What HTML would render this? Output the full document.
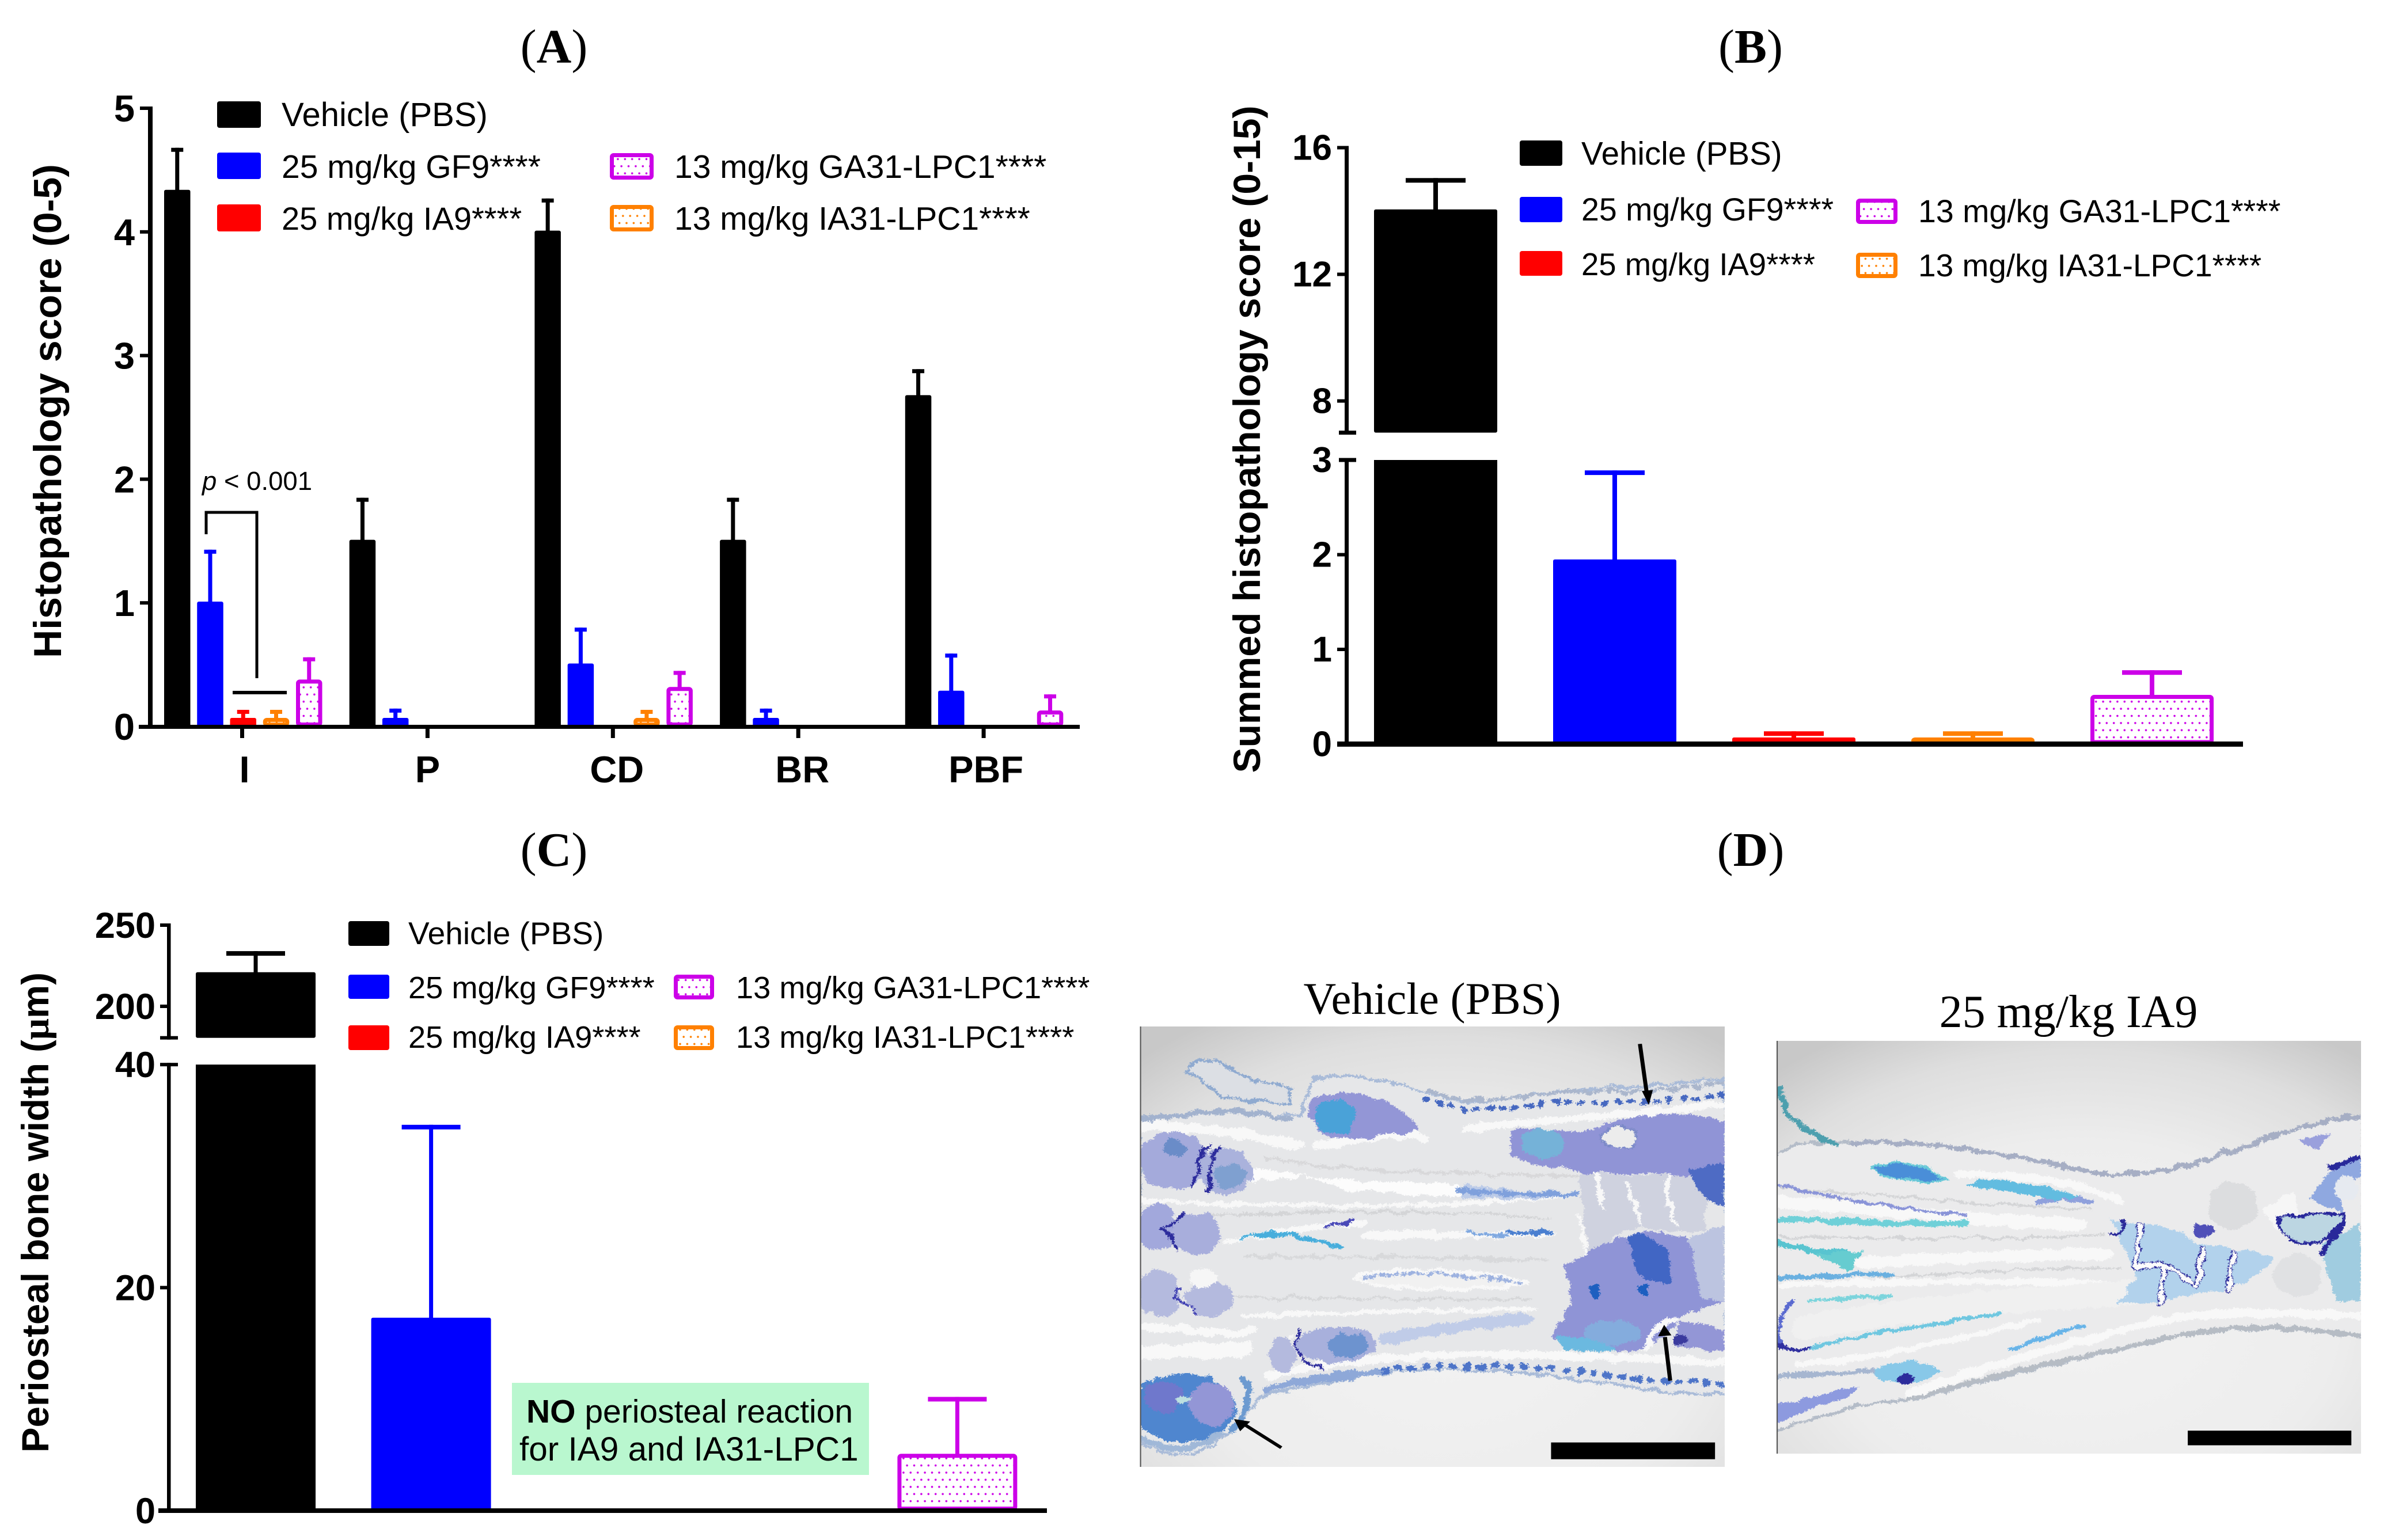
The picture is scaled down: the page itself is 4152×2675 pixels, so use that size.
<!DOCTYPE html>
<html lang="en">
<head>
<meta charset="utf-8">
<title>Histopathology figure</title>
<style>
html,body{margin:0;padding:0;background:#fff;}
svg{display:block;}
text{font-family:"Liberation Sans",Arial,sans-serif;fill:#000;}
.serif{font-family:"Liberation Serif","Times New Roman",serif;}
.ptitle{font-family:"Liberation Serif","Times New Roman",serif;font-size:84px;}
.ytitle{font-weight:bold;text-anchor:middle;}
.lgA{font-size:57px;}
.lgB{font-size:55.5px;}
.lgC{font-size:54.2px;}
.soft{stroke-linecap:round;stroke-linejoin:round;fill:none;}
</style>
</head>
<body>
<svg id="fig" xmlns="http://www.w3.org/2000/svg" width="4152" height="2675" viewBox="0 0 4152 2675">
<defs>
  <pattern id="dots-magenta" patternUnits="userSpaceOnUse" width="12.4" height="24.8" patternTransform="translate(3.5 0.5)">
    <circle cx="3" cy="3" r="1.8" fill="#cc00e8"/><circle cx="9.2" cy="15.4" r="1.8" fill="#cc00e8"/>
  </pattern>
  <pattern id="dots-orange" patternUnits="userSpaceOnUse" width="12.4" height="24.8">
    <circle cx="3" cy="3" r="1.8" fill="#ff8000"/><circle cx="9.2" cy="15.4" r="1.8" fill="#ff8000"/>
  </pattern>
  <radialGradient id="histBg" cx="52%" cy="68%" r="80%">
    <stop offset="0%" stop-color="#f2f2f2"/><stop offset="55%" stop-color="#ededed"/><stop offset="82%" stop-color="#dedede"/><stop offset="100%" stop-color="#c8c8c8"/>
  </radialGradient>
  <filter id="organic1" filterUnits="userSpaceOnUse" x="42" y="170" width="1448" height="1262" color-interpolation-filters="sRGB">
    <feTurbulence type="fractalNoise" baseFrequency="0.03" numOctaves="3" seed="4" result="n1"/>
    <feDisplacementMap in="SourceGraphic" in2="n1" scale="26" xChannelSelector="R" yChannelSelector="G" result="d1"/>
    <feTurbulence type="fractalNoise" baseFrequency="0.22" numOctaves="2" seed="9" result="n2"/>
    <feDisplacementMap in="d1" in2="n2" scale="14" xChannelSelector="G" yChannelSelector="R"/>
  </filter>
  <filter id="organic2" filterUnits="userSpaceOnUse" x="50" y="178" width="1447" height="1184" color-interpolation-filters="sRGB">
    <feTurbulence type="fractalNoise" baseFrequency="0.03" numOctaves="3" seed="11" result="n1"/>
    <feDisplacementMap in="SourceGraphic" in2="n1" scale="22" xChannelSelector="R" yChannelSelector="G" result="d1"/>
    <feTurbulence type="fractalNoise" baseFrequency="0.22" numOctaves="2" seed="3" result="n2"/>
    <feDisplacementMap in="d1" in2="n2" scale="12" xChannelSelector="G" yChannelSelector="R"/>
  </filter>
</defs>

<rect width="4152" height="2675" fill="#fff"/>

<!-- panel titles -->
<text class="ptitle" x="962" y="109" text-anchor="middle">(<tspan font-weight="bold">A</tspan>)</text>
<text class="ptitle" x="3040" y="109" text-anchor="middle">(<tspan font-weight="bold">B</tspan>)</text>
<text class="ptitle" x="962" y="1504" text-anchor="middle">(<tspan font-weight="bold">C</tspan>)</text>
<text class="ptitle" x="3040" y="1504" text-anchor="middle">(<tspan font-weight="bold">D</tspan>)</text>

<!-- y axis titles -->
<text class="ytitle" font-size="68" transform="translate(106 714) rotate(-90)">Histopathology score (0-5)</text>
<text class="ytitle" font-size="66" transform="translate(2188 763) rotate(-90)">Summed histopathology score (0-15)</text>
<text class="ytitle" font-size="65.5" transform="translate(84 2106) rotate(-90)">Periosteal bone width (<tspan class="serif">μ</tspan>m)</text>

<!-- chart layers filled by script -->
<g id="chartA"></g>
<g id="chartB"></g>
<g id="chartC"></g>

<!-- significance annotation A -->
<g>
  <path d="M358 928 V890 H446 V1178" fill="none" stroke="#000" stroke-width="5"/>
  <rect x="404" y="1200" width="94" height="6" fill="#000"/>
  <text x="351" y="851" font-size="45.5"><tspan font-style="italic">p</tspan> &lt; 0.001</text>
</g>

<!-- legend A -->
<g>
  <rect x="377" y="176" width="76" height="46" rx="4" fill="#000"/>
  <text class="lgA" x="489" y="219" style="font-size:58px">Vehicle (PBS)</text>
  <rect x="377" y="265" width="76" height="46" rx="4" fill="#0000ff"/>
  <text class="lgA" x="489" y="309">25 mg/kg GF9****</text>
  <rect x="377" y="355" width="76" height="47" rx="4" fill="#ff0000"/>
  <text class="lgA" x="489" y="399" style="font-size:56px">25 mg/kg IA9****</text>
  <rect x="1062.5" y="269.5" width="69" height="39" rx="3" fill="url(#dots-magenta)" stroke="#cc00e8" stroke-width="7"/>
  <text class="lgA" x="1171" y="309">13 mg/kg GA31-LPC1****</text>
  <rect x="1062.5" y="359.5" width="69" height="39" rx="3" fill="url(#dots-orange)" stroke="#ff8000" stroke-width="7"/>
  <text class="lgA" x="1171" y="399">13 mg/kg IA31-LPC1****</text>
</g>

<!-- legend B -->
<g>
  <rect x="2639" y="244" width="74" height="44" rx="4" fill="#000"/>
  <text class="lgB" x="2746" y="286" style="font-size:56.5px">Vehicle (PBS)</text>
  <rect x="2639" y="342" width="74" height="44" rx="4" fill="#0000ff"/>
  <text class="lgB" x="2746" y="383">25 mg/kg GF9****</text>
  <rect x="2639" y="436" width="74" height="43" rx="4" fill="#ff0000"/>
  <text class="lgB" x="2746" y="478" style="font-size:54.5px">25 mg/kg IA9****</text>
  <rect x="3226.5" y="348.5" width="65" height="37" rx="3" fill="url(#dots-magenta)" stroke="#cc00e8" stroke-width="7"/>
  <text class="lgB" x="3331" y="386">13 mg/kg GA31-LPC1****</text>
  <rect x="3226.5" y="442.5" width="65" height="37" rx="3" fill="url(#dots-orange)" stroke="#ff8000" stroke-width="7"/>
  <text class="lgB" x="3331" y="480" style="font-size:55px">13 mg/kg IA31-LPC1****</text>
</g>

<!-- legend C -->
<g>
  <rect x="605" y="1600" width="71" height="43" rx="4" fill="#000"/>
  <text class="lgC" x="709" y="1640" style="font-size:55px">Vehicle (PBS)</text>
  <rect x="605" y="1693" width="71" height="42" rx="4" fill="#0000ff"/>
  <text class="lgC" x="709" y="1734">25 mg/kg GF9****</text>
  <rect x="605" y="1781" width="71" height="43" rx="4" fill="#ff0000"/>
  <text class="lgC" x="709" y="1820">25 mg/kg IA9****</text>
  <rect x="1173.5" y="1696.5" width="63" height="36" rx="3" fill="url(#dots-magenta)" stroke="#cc00e8" stroke-width="7"/>
  <text class="lgC" x="1278" y="1734">13 mg/kg GA31-LPC1****</text>
  <rect x="1173.5" y="1784.5" width="63" height="36" rx="3" fill="url(#dots-orange)" stroke="#ff8000" stroke-width="7"/>
  <text class="lgC" x="1278" y="1820">13 mg/kg IA31-LPC1****</text>
</g>

<!-- annotation C -->
<g>
  <rect x="889" y="2402" width="620" height="160" fill="#b9f7cf"/>
  <text x="914" y="2471" font-size="57"><tspan font-weight="bold">NO</tspan> periosteal reaction</text>
  <text x="902" y="2537" font-size="58.5">for IA9 and IA31-LPC1</text>
</g>

<!-- panel D image labels -->
<text class="serif" x="2487" y="1761" font-size="78.5" text-anchor="middle">Vehicle (PBS)</text>
<text class="serif" x="3592" y="1784" font-size="80" text-anchor="middle">25 mg/kg IA9</text>

<!-- Histology: vehicle -->
<svg x="1979.5" y="1783" width="1015.5" height="765" viewBox="42 170 1448 1262" preserveAspectRatio="none">
  <rect x="42" y="170" width="1448" height="1262" fill="url(#histBg)"/>
  <g filter="url(#organic1)">
  <path d="M42 440C120 415 240 400 380 425L440 420L470 320C560 300 680 330 760 360C880 420 1000 350 1120 355C1240 340 1380 335 1490 320L1500 1220C1400 1225 1300 1215 1200 1190C1000 1165 860 1140 700 1155C560 1170 440 1205 340 1230C300 1300 270 1340 200 1385C150 1405 80 1400 30 1350Z" fill="#e6e7e9" stroke="#a9bbd8" stroke-width="8"/>
  <path d="M155 300L180 270L230 265L300 320L420 345L410 390L360 385L250 375L210 340Z" fill="#dcdfe4" stroke="#8faad0" stroke-width="8"/>
  <g class="soft" stroke="#f8f8f8">
    <path d="M42 452C200 462 350 482 430 512" stroke-width="30"/>
    <path d="M480 512C600 490 700 470 750 490" stroke-width="22"/>
    <path d="M850 465C1000 440 1200 430 1490 392" stroke-width="20"/>
    <path d="M350 550C600 590 850 590 1130 600" stroke-width="8" stroke="#d8d8da"/>
    <path d="M42 668C300 685 700 700 1120 652" stroke-width="12"/>
    <path d="M250 790C420 745 520 740 600 730" stroke-width="16"/>
    <path d="M600 770C750 762 900 772 1060 762" stroke-width="20"/>
    <path d="M150 720C450 690 800 700 1060 720" stroke-width="7" stroke="#d4d5d7"/>
    <path d="M300 830C600 830 800 830 1050 840" stroke-width="8" stroke="#d8d9db"/>
    <path d="M570 890C650 860 850 860 1010 905C850 930 650 930 570 890Z" stroke-width="10" fill="#f1f1f1"/>
    <path d="M300 1000C600 985 800 985 1020 980" stroke-width="12"/>
    <path d="M260 950C500 940 800 960 1000 950" stroke-width="6" stroke="#d6d7d9"/>
    <path d="M42 1030C200 1040 300 1060 320 1040" stroke-width="22"/>
    <path d="M42 1105L300 1095" stroke-width="42"/>
    <path d="M360 1170C600 1110 900 1090 1490 1135" stroke-width="22"/>
  </g>
  <path d="M300 570L400 590L520 610L830 622L840 660L560 640L450 600L310 612Z" fill="#fcfcfc"/>
  <path d="M840 625L1120 650L1000 665L840 660Z" fill="#bccbe8"/>
  <!-- purple masses -->
  <path d="M460 400C480 350 560 350 640 380C700 410 730 450 730 470C660 480 560 500 510 490C470 460 460 430 460 400Z" fill="#9396d6"/>
  <ellipse cx="525" cy="430" rx="52" ry="52" fill="#4aa2d8"/>
  <path d="M960 470C1040 450 1100 480 1160 470C1220 430 1350 400 1490 440L1490 680L1430 620L1300 590L1150 590C1100 570 1000 580 960 540Z" fill="#9094d6"/>
  <ellipse cx="1040" cy="505" rx="55" ry="42" fill="#6cbcd8" opacity=".75"/>
  <ellipse cx="1232" cy="487" rx="42" ry="32" fill="#ececec" stroke="#7c8ac8" stroke-width="5"/>
  <path d="M1130 590L1450 600L1440 760L1250 750L1150 830Z" fill="#cfd2df"/>
  <path d="M1400 580L1490 560L1490 690L1430 660Z" fill="#4e6bc4"/>
  <path d="M1090 860C1180 800 1250 750 1340 760C1420 800 1490 780 1490 900L1490 960L1380 1000C1370 1050 1300 1080 1280 1100C1200 1100 1100 1100 1060 1060C1090 1000 1130 960 1090 860Z" fill="#8f94d6"/>
  <path d="M1250 770C1300 750 1370 800 1360 900C1300 920 1260 880 1250 770Z" fill="#4166c4"/>
  <path d="M1400 780L1490 740L1490 960L1430 950Z" fill="#bcc4e0"/>
  <path d="M1380 1010L1490 1040L1490 1100L1370 1090Z" fill="#9396d6"/>
  <ellipse cx="1380" cy="1070" rx="20" ry="14" fill="#3a3a9e"/>
  <ellipse cx="1170" cy="930" rx="14" ry="22" fill="#1d5fc0"/><ellipse cx="1288" cy="925" rx="14" ry="16" fill="#1d5fc0"/>
  <ellipse cx="1210" cy="1050" rx="70" ry="38" fill="#7fb6df" opacity=".7"/>
  <path d="M1070 1060C1130 1050 1180 1070 1220 1100L1090 1100Z" fill="#6bb9e0"/>
  <g class="soft" stroke="#f8f8f8" stroke-width="9">
    <path d="M1170 590L1190 690"/><path d="M1250 620L1280 740"/><path d="M1350 600C1340 650 1360 700 1370 740"/><path d="M1130 710L1145 820"/><path d="M1290 1100C1310 1050 1320 1025 1370 1010" stroke-width="14"/>
  </g>
  <!-- joints -->
  <ellipse cx="125" cy="555" rx="88" ry="82" fill="#a4aadb"/><ellipse cx="255" cy="585" rx="65" ry="70" fill="#aab2dc"/>
  <ellipse cx="130" cy="520" rx="30" ry="25" fill="#6a8cc8"/><ellipse cx="265" cy="600" rx="40" ry="35" fill="#7fa0d0"/>
  <ellipse cx="85" cy="745" rx="48" ry="68" fill="#a2a8dc"/><ellipse cx="180" cy="762" rx="60" ry="60" fill="#a8aedc"/>
  <ellipse cx="90" cy="935" rx="52" ry="68" fill="#b4bade"/><ellipse cx="215" cy="950" rx="60" ry="52" fill="#b4bade"/>
  <ellipse cx="200" cy="890" rx="36" ry="26" fill="#f6f6f6"/>
  <g class="soft" stroke="#2c2c9c" stroke-width="9">
    <path d="M215 510C180 540 190 590 175 625"/><path d="M240 515C205 550 215 600 210 640"/>
    <path d="M150 705C130 740 100 740 95 750C120 765 130 790 130 812" stroke-width="7"/>
    <path d="M150 920C120 935 120 950 155 965C180 980 175 990 185 1000" stroke-width="5" stroke="#3a3ab0"/>
    <path d="M440 1040C420 1080 430 1130 490 1150" stroke-width="7"/>
    <path d="M420 1050C390 1080 400 1120 420 1140" stroke-width="4" stroke="#f5f5f5"/>
  </g>
  <ellipse cx="530" cy="1082" rx="98" ry="52" fill="#a8b0dc"/><ellipse cx="560" cy="1085" rx="50" ry="34" fill="#6d93cf"/>
  <ellipse cx="395" cy="1110" rx="32" ry="50" fill="#b4bade"/>
  <path d="M650 1065C780 1035 900 1015 1000 1010" class="soft" stroke="#c0cce8" stroke-width="34"/>
  <path d="M830 640L1120 652" class="soft" stroke="#7fa0dc" stroke-width="14" stroke-dasharray="10 12"/>
  <!-- colored streaks -->
  <g class="soft">
    <path d="M290 782C350 752 420 760 540 802" stroke="#48aedc" stroke-width="11"/>
    <path d="M505 745L570 725" stroke="#4a4ab8" stroke-width="10"/>
    <path d="M960 760L1060 760" stroke="#4a7fd0" stroke-width="14"/>
    <path d="M860 760L950 770" stroke="#7fa8e0" stroke-width="10" stroke-dasharray="8 10"/>
    <path d="M600 890C700 870 850 880 990 905" stroke="#9db2e0" stroke-width="10" stroke-dasharray="10 12"/>
  </g>
  <!-- skin rows -->
  <g class="soft">
    <path d="M750 378C850 430 950 400 1100 385C1250 395 1400 375 1490 368" stroke="#4668c0" stroke-width="15" stroke-dasharray="6 26"/>
    <path d="M760 355C850 400 950 375 1100 355C1250 365 1400 345 1490 330" stroke="#aab6cc" stroke-width="12" stroke-dasharray="16 14"/>
    <path d="M640 1155C800 1135 1000 1135 1200 1170C1300 1180 1400 1195 1490 1190" stroke="#4d74c8" stroke-width="16" stroke-dasharray="7 28"/>
    <path d="M360 1210C430 1185 520 1170 640 1160" stroke="#8ea8d8" stroke-width="22" stroke-dasharray="8 14"/>
    <path d="M42 438C150 420 280 395 420 440" stroke="#a2b2ce" stroke-width="16" stroke-dasharray="14 12"/>
  </g>
  <!-- ball -->
  <ellipse cx="150" cy="1262" rx="128" ry="98" fill="#4f86cf"/>
  <ellipse cx="218" cy="1250" rx="55" ry="62" fill="#9396d6"/>
  <ellipse cx="100" cy="1230" rx="50" ry="45" fill="#6f78cc"/>
  <ellipse cx="150" cy="1240" rx="18" ry="14" fill="#bde0e0"/>
  <path d="M50 1350C100 1390 170 1390 240 1340" class="soft" stroke="#a0b8d8" stroke-width="18"/>
  <path d="M300 1180C320 1230 300 1300 270 1330" class="soft" stroke="#6c9ad0" stroke-width="16"/>
  </g>
  <rect x="42" y="170" width="3" height="1262" fill="#555"/>
  <!-- arrows -->
  <g>
    <path d="M1280 220L1298 370" stroke="#000" stroke-width="10" fill="none"/><path d="M1285 355L1312 352L1302 395Z" fill="#000"/>
    <path d="M1355 1185L1342 1060" stroke="#000" stroke-width="10" fill="none"/><path d="M1325 1058L1358 1055L1340 1025Z" fill="#000"/>
    <path d="M392 1377L300 1310" stroke="#000" stroke-width="9" fill="none"/><path d="M275 1295L315 1302L290 1330Z" fill="#000"/>
  </g>
  <rect x="1060" y="1362" width="406" height="48" fill="#000"/>
</svg>

<!-- Histology: IA9 -->
<svg x="3085" y="1808" width="1015" height="717" viewBox="50 178 1447 1184" preserveAspectRatio="none">
  <rect x="50" y="178" width="1447" height="1184" fill="url(#histBg)"/>
  <g filter="url(#organic2)">
  <path d="M40 510L100 470L240 470C400 460 600 500 800 545C900 580 1050 550 1130 510C1250 470 1380 400 1505 395L1505 1030C1300 990 1100 1000 1000 1040C800 1090 600 1140 380 1210C300 1200 200 1240 40 1300Z" fill="#ebebec" stroke="#b4bcc8" stroke-width="8"/>
  <path d="M55 310C70 400 110 430 200 480" class="soft" stroke="#4d9fae" stroke-width="13" stroke-dasharray="18 8"/>
  <path d="M240 470C400 460 600 500 800 545C900 580 1050 550 1130 510C1250 470 1380 400 1497 395" class="soft" stroke="#a6aec4" stroke-width="14" stroke-dasharray="12 14"/>
  <path d="M380 1205C600 1130 800 1085 1000 1035C1150 990 1300 990 1497 1025" class="soft" stroke="#b6bcc4" stroke-width="14" stroke-dasharray="12 12"/>
  <g class="soft" stroke="#f8f8f8">
    <path d="M60 640C300 660 600 700 800 705" stroke-width="36"/>
    <path d="M260 815C500 800 700 790 870 790" stroke-width="34"/>
    <path d="M60 880C300 870 700 860 930 880" stroke-width="18"/>
    <path d="M120 1000C300 960 600 920 930 900" stroke-width="70" stroke="#f0f0f0"/>
    <path d="M500 560C650 560 800 580 900 640" stroke-width="20"/>
    <path d="M100 1105C250 1100 420 1050 700 980" stroke-width="16"/>
    <path d="M380 1190C600 1100 800 1040 1000 980C1150 950 1300 960 1497 965" stroke-width="24"/>
    <path d="M60 740C300 740 600 750 860 735" stroke-width="6" stroke="#d4d5d7"/>
    <path d="M60 600C300 620 600 650 830 660" stroke-width="6" stroke="#d4d5d7"/>
    <path d="M300 860C500 840 700 830 900 830" stroke-width="6" stroke="#d4d5d7"/>
  </g>
  <g class="soft">
    <path d="M50 590C150 620 300 650 520 680" stroke="#8a94d8" stroke-width="9"/>
    <path d="M55 690C200 690 350 710 520 700" stroke="#6fd0d8" stroke-width="15"/>
    <path d="M55 760C120 780 200 790 250 790" stroke="#58c4d0" stroke-width="18"/>
    <path d="M55 858C150 850 250 850 340 850" stroke="#6ab0e0" stroke-width="14"/>
    <path d="M130 1058C300 1010 450 990 600 960" stroke="#6fc7e0" stroke-width="11"/>
    <path d="M130 920C200 915 260 915 330 910" stroke="#7cd4dc" stroke-width="10"/>
    <path d="M55 1040C70 1065 100 1070 125 1060" stroke="#3030a0" stroke-width="11"/>
    <path d="M58 1040C60 980 60 945 90 925" stroke="#5a6ad0" stroke-width="8"/>
    <path d="M630 1060C700 1030 760 1010 810 995" stroke="#68b4e8" stroke-width="12"/>
    <path d="M700 640C760 620 800 630 830 640" stroke="#8fa0dc" stroke-width="14"/>
  </g>
  <path d="M140 790L260 780L235 840Z" fill="#66ccd0"/>
  <path d="M280 545C330 510 420 530 470 575C400 585 320 580 280 545Z" fill="#4a8ed8" stroke="#68c8d8" stroke-width="6"/>
  <path d="M520 590C570 560 680 580 800 625L740 635C650 610 570 610 520 590Z" fill="#62bce0"/>
  <!-- joints -->
  <path d="M880 690C950 720 1000 680 1100 760C1200 780 1250 780 1280 800C1260 850 1200 890 1100 900L980 930L890 930C930 880 950 860 930 830Z" fill="#b2d2ec"/>
  <ellipse cx="1180" cy="650" rx="60" ry="70" fill="#dcdddf"/>
  <ellipse cx="1340" cy="850" rx="60" ry="60" fill="#e0e1e3"/>
  <g class="soft" fill="none">
    <path d="M950 710L940 830L1010 815L1000 930M1010 815L1090 885L1105 775M1180 780L1170 895" stroke="#2a2a9a" stroke-width="16"/>
    <path d="M950 710L940 830L1010 815L1000 930M1010 815L1090 885L1105 775M1180 780L1170 895" stroke="#fbfbfb" stroke-width="11"/>
    <path d="M875 730C900 735 915 725 905 690" stroke="#2a2a9a" stroke-width="8"/>
  </g>
  <ellipse cx="1105" cy="722" rx="25" ry="18" fill="#5050b8"/>
  <path d="M1250 660L1330 610L1350 690L1290 720Z" fill="#f6f6f6"/>
  <path d="M1400 760L1497 700L1497 930L1430 920C1420 860 1400 800 1400 760Z" fill="#a0cce0"/>
  <path d="M1293 682C1340 680 1400 675 1450 672C1450 720 1410 765 1350 760C1310 750 1295 710 1293 682Z" fill="#bcd6e2" stroke="#28289a" stroke-width="7"/>
  <path d="M1450 700C1440 730 1420 750 1400 790" class="soft" stroke="#28289a" stroke-width="14"/>
  <path d="M1370 630C1410 560 1450 510 1497 510L1497 570L1450 620L1450 670Z" fill="#8fa8e0"/>
  <path d="M1420 540L1497 515" class="soft" stroke="#28289a" stroke-width="13"/>
  <ellipse cx="1460" cy="600" rx="30" ry="35" fill="#e6eaf0"/>
  <path d="M1340 460L1420 450L1390 490Z" fill="#9aa0dc"/>
  <!-- bottom -->
  <path d="M45 1290C90 1230 200 1230 260 1170C200 1170 100 1220 45 1220Z" fill="#8d9adf"/>
  <path d="M290 1120C340 1090 430 1090 460 1130C420 1160 360 1170 300 1150Z" fill="#88c8e8"/>
  <ellipse cx="370" cy="1148" rx="19" ry="15" fill="#2c2c9c"/>
  <path d="M50 1140C120 1130 200 1140 290 1120" class="soft" stroke="#a6b6d0" stroke-width="14" stroke-dasharray="10 10"/>
  </g>
  <rect x="50" y="178" width="3" height="1184" fill="#555"/>
  <rect x="1068" y="1296" width="405" height="42" fill="#000"/>
</svg>

<script>
// ---------- Panel A data ----------
const aCategories = ['I', 'P', 'CD', 'BR', 'PBF'];
const aTickLabels = [0, 1, 2, 3, 4, 5];
const aVehicle = [4.34, 1.51, 4.01, 1.51, 2.68];
const aVehicleUpper = [4.68, 1.85, 4.27, 1.85, 2.89];
const aGF9 = [1.01, 0.07, 0.51, 0.07, 0.29];
const aGF9Upper = [1.43, 0.145, 0.8, 0.145, 0.59];
const aIA9 = [0.07, 0, 0, 0, 0];
const aIA9Upper = [0.135, 0, 0, 0, 0];
const aIA31 = [0.07, 0, 0.07, 0, 0];
const aIA31Upper = [0.135, 0, 0.135, 0, 0];
const aGA31 = [0.38, 0, 0.32, 0, 0.13];
const aGA31Upper = [0.56, 0, 0.45, 0, 0.26];

// ---------- Panel B data ----------
const bGroups = ['Vehicle', 'GF9', 'IA9', 'IA31-LPC1', 'GA31-LPC1'];
const bValues = [14.05, 1.95, 0.07, 0.07, 0.52];
const bUpper = [15.04, 2.89, 0.135, 0.135, 0.78];
const bLowerTicks = [0, 1, 2, 3];
const bUpperTicks = [8, 12, 16];

// ---------- Panel C data ----------
const cGroups = ['Vehicle', 'GF9', 'IA9', 'IA31-LPC1', 'GA31-LPC1'];
const cValues = [221, 17.3, 0, 0, 5.1];
const cUpper = [234, 34.6, 0, 0, 10.2];
const cLowerTicks = [0, 20, 40];
const cUpperTicks = [200, 250];

const SVGNS = 'http://www.w3.org/2000/svg';
const STYLE = {
  black: {color: '#000000', hollow: false},
  blue: {color: '#0000ff', hollow: false},
  red: {color: '#ff0000', hollow: false},
  orange: {color: '#ff8000', hollow: true, pat: 'dots-orange'},
  magenta: {color: '#cc00e8', hollow: true, pat: 'dots-magenta'}
};
const SERIES_ORDER = ['black', 'blue', 'red', 'orange', 'magenta'];

function aY(v) { return 1262 - v * 214.8; }
function aXLeft(g, s) { return 285 + 321.7 * g + 57.25 * s; }
function aXTick(g) { return 420.5 + 321.9 * g; }

function bY(v) { return v <= 3 ? 1292.5 - v * 164.5 : 696.5 - (v - 8) * 55; }
function bXLeft(i) { return 2386 + 311 * i; }

function cY(v) { return v <= 40 ? 2624 - v * 19.37 : 1748 - (v - 200) * 2.82; }
function cXLeft(i) { return 340 + 304.6 * i; }

function rect(parent, x, y, w, h, fill) {
  const el = document.createElementNS(SVGNS, 'rect');
  el.setAttribute('x', x);
  el.setAttribute('y', y);
  el.setAttribute('width', Math.max(w, 0));
  el.setAttribute('height', Math.max(h, 0));
  el.setAttribute('fill', fill);
  parent.appendChild(el);
  return el;
}

function label(parent, x, y, str, size, anchor) {
  const el = document.createElementNS(SVGNS, 'text');
  el.setAttribute('x', x);
  el.setAttribute('y', y);
  el.setAttribute('font-size', size);
  el.setAttribute('font-weight', 'bold');
  el.setAttribute('text-anchor', anchor);
  el.textContent = str;
  
  
  parent.appendChild(el);
  return el;
}

function drawBar(parent, name, left, width, value, upper, styleKey, yFn, capW, stemW, capH, brk) {
  if (value <= 0) return;
  const st = STYLE[styleKey];
  const base = yFn(0);
  const g = document.createElementNS(SVGNS, 'g');
  
  
  parent.appendChild(g);
  const cx = left + width / 2;
  const topY = yFn(value);
  const upY = yFn(upper);
  // error bar
  const stem = rect(g, cx - stemW / 2, upY, stemW, topY - upY + 4, st.color);
  
  
  const cap = rect(g, cx - capW / 2, upY, capW, capH, st.color);
  
  
  // bar body
  if (st.hollow) {
    const sw = 7;
    const body = rect(g, left + sw / 2, topY + sw / 2, width - sw, Math.max(base - topY - sw, 1), 'url(#' + st.pat + ')');
    body.setAttribute('stroke', st.color);
    body.setAttribute('stroke-width', sw);
    body.setAttribute('rx', 3);
    
    
  } else if (brk && value > brk[1]) {
    const hi = rect(g, left, topY, width, yFn(brk[1]) - topY, st.color);
    hi.setAttribute('rx', 3);
    
    
    const lo = rect(g, left, yFn(brk[0]), width, base - yFn(brk[0]), st.color);
    
    
  } else {
    const body = rect(g, left, topY, width, base - topY + 2, st.color);
    body.setAttribute('rx', 3);
    
    
  }
}

function hTick(parent, x1, x2, y, h) {
  const el = rect(parent, x1, y - h / 2, x2 - x1, h, '#000');
  
  
}

// ---------- Draw panel A ----------
(function () {
  const root = document.getElementById('chartA');
  const seriesA = [[aVehicle, aVehicleUpper], [aGF9, aGF9Upper], [aIA9, aIA9Upper], [aIA31, aIA31Upper], [aGA31, aGA31Upper]];
  aCategories.forEach(function (cat, g) {
    seriesA.forEach(function (pair, s) {
      drawBar(root, 'bar-' + cat + '-' + SERIES_ORDER[s], aXLeft(g, s), 45.5, pair[0][g], pair[1][g], SERIES_ORDER[s], aY, 21, 7, 7, null);
    });
  });
  const yAxis = rect(root, 257, aY(5) - 3, 8, aY(0) - aY(5) + 6, '#000');
  
  
  const xAxis = rect(root, 241, 1259, 1634, 7, '#000');
  
  
  aTickLabels.forEach(function (t) {
    if (t !== 0) hTick(root, 243, 258, aY(t), 6);
    label(root, 234, aY(t) + 23, String(t), 65, 'end');
  });
  const nudge = function (g) { return g === 1 ? 0 : (g === 2 || g === 3 ? 7 : 4); };
  aCategories.forEach(function (cat, g) {
    const tk = rect(root, aXTick(g) - 3.5, 1266, 7, 16, '#000');
    
    
    label(root, aXTick(g) + nudge(g), 1359, cat, 65, 'middle');
  });
})();

// ---------- Draw panel B ----------
(function () {
  const root = document.getElementById('chartB');
  const brk = [3, 7];
  bGroups.forEach(function (grp, i) {
    drawBar(root, 'bar-' + grp, bXLeft(i), 214, bValues[i], bUpper[i], SERIES_ORDER[i], bY, 104, 8, 8, brk);
  });
  const upperAxis = rect(root, 2335, bY(16) - 3, 7, bY(brk[1]) - bY(16) + 6, '#000');
  
  
  const lowerAxis = rect(root, 2335, bY(brk[0]) - 3, 7, bY(0) - bY(brk[0]) + 6, '#000');
  
  
  const xAxis = rect(root, 2322, 1288, 1573, 9, '#000');
  
  
  hTick(root, 2325, 2355, bY(brk[1]), 7);
  hTick(root, 2325, 2355, bY(brk[0]), 7);
  bLowerTicks.concat(bUpperTicks).forEach(function (t) {
    if (t !== 0 && t !== brk[0]) hTick(root, 2322, 2338, bY(t), 6);
    label(root, 2313, bY(t) + 21, String(t), 62, 'end');
  });
})();

// ---------- Draw panel C ----------
(function () {
  const root = document.getElementById('chartC');
  const brk = [40, 180.6];
  cGroups.forEach(function (grp, i) {
    drawBar(root, 'bar-' + grp, cXLeft(i), 208, cValues[i], cUpper[i], SERIES_ORDER[i], cY, 102, 7, 8, brk);
  });
  const upperAxis = rect(root, 290, cY(250) - 3, 6.5, cY(brk[1]) - cY(250) + 6, '#000');
  
  
  const lowerAxis = rect(root, 290, cY(brk[0]) - 3, 6.5, cY(0) - cY(brk[0]) + 6, '#000');
  
  
  const xAxis = rect(root, 275, 2620, 1543, 8, '#000');
  
  
  hTick(root, 278, 309, cY(brk[1]), 6);
  hTick(root, 278, 309, cY(brk[0]), 6);
  cLowerTicks.concat(cUpperTicks).forEach(function (t) {
    if (t !== 0 && t !== brk[0]) hTick(root, 278, 292, cY(t), 6);
    label(root, 270, cY(t) + 22, String(t), 63, 'end');
  });
})();
</script>
</svg>
</body>
</html>
